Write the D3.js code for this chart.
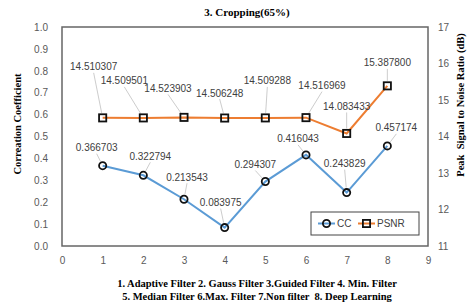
<!DOCTYPE html>
<html>
<head>
<meta charset="utf-8">
<script src="https://cdn.jsdelivr.net/npm/d3@7"></script>
<style>
  body { margin: 0; background: #fff; }
  svg text { font-family: "Liberation Sans", Arial, sans-serif; }
  .tick text { fill: #595959; font-size: 10px; }
  .serif { font-family: "Liberation Serif", "Times New Roman", serif !important; font-weight: bold; fill: #000; }
  .val { font-size: 10px; fill: #404040; }
  .leader { stroke: #bfbfbf; stroke-width: 0.8; fill: none; }
</style>
</head>
<body>
<svg id="chart" width="475" height="305"></svg>
<script>
// data
var filters = [1, 2, 3, 4, 5, 6, 7, 8];
var ccValues = [0.366703, 0.322794, 0.213543, 0.083975, 0.294307, 0.416043, 0.243829, 0.457174];
var psnrValues = [14.510307, 14.509501, 14.523903, 14.506248, 14.509288, 14.516969, 14.083433, 15.387800];
var xTicks = [0, 1, 2, 3, 4, 5, 6, 7, 8, 9];
var ccTicks = [0, 0.1, 0.2, 0.3, 0.4, 0.5, 0.6, 0.7, 0.8, 0.9, 1.0];
var psnrTicks = [11, 12, 13, 14, 15, 16, 17];
var captions = [
  "1. Adaptive Filter 2. Gauss Filter 3.Guided Filter 4. Min. Filter",
  "5. Median Filter 6.Max. Filter 7.Non filter  8. Deep Learning"
];

// label offsets from each point (px), tuned by eye
var ccLabelOffset = [[-6, -18], [7, -19], [3, -22], [-4, -25], [-10, -17], [-8, -16], [-2, -29], [9, -18]];
var psnrLabelOffset = [[-9, -51], [-19, -37], [-16, -29], [-5, -25], [2, -37], [16, -32], [0, -27], [0, -23]];

var svg = d3.select("#chart");
var plot = { left: 62, right: 428, top: 27, bottom: 246 };

var x = d3.scaleLinear().domain([0, 9]).range([plot.left, plot.right]);
var yL = d3.scaleLinear().domain([0, 1]).range([plot.bottom, plot.top]);
var yR = d3.scaleLinear().domain([11, 17]).range([plot.bottom, plot.top]);

// title
svg.append("text").attr("class", "serif")
  .attr("x", 247).attr("y", 16).attr("text-anchor", "middle")
  .style("font-size", "11px").text("3. Cropping(65%)");

// frame
svg.append("rect")
  .attr("x", plot.left).attr("y", plot.top)
  .attr("width", plot.right - plot.left).attr("height", plot.bottom - plot.top)
  .attr("fill", "none").attr("stroke", "#666").attr("stroke-width", 1.5);

// axes (labels only)
var axL = svg.append("g").attr("transform", "translate(" + (plot.left - 14) + ",0)")
  .call(d3.axisLeft(yL).tickValues(ccTicks).tickSize(0).tickFormat(d3.format(".1f")));
var axR = svg.append("g").attr("transform", "translate(" + (plot.right + 10) + ",0)")
  .call(d3.axisRight(yR).tickValues(psnrTicks).tickSize(0).tickFormat(d3.format("d")));
var axB = svg.append("g").attr("transform", "translate(0," + (plot.bottom + 8) + ")")
  .call(d3.axisBottom(x).tickValues(xTicks).tickSize(0).tickFormat(d3.format("d")));
[axL, axR, axB].forEach(function (a) { a.select(".domain").remove(); });
axL.selectAll("text").attr("x", 0);
axR.selectAll("text").attr("x", 0);

// axis titles
svg.append("text").attr("class", "serif")
  .attr("transform", "translate(21,124) rotate(-90)")
  .attr("text-anchor", "middle").style("font-size", "10.5px")
  .text("Correation Coefficient");
svg.append("text").attr("class", "serif")
  .attr("transform", "translate(464,105) rotate(-90)")
  .attr("text-anchor", "middle").style("font-size", "10.5px")
  .attr("xml:space", "preserve")
  .text("Peak  Signal to Noise Ratio (dB)");

// captions
svg.selectAll(".cap").data(captions).enter().append("text")
  .attr("class", "serif cap").attr("x", 257)
  .attr("y", function (d, i) { return 287 + i * 12.5; })
  .attr("text-anchor", "middle").style("font-size", "10.5px")
  .attr("xml:space", "preserve")
  .text(function (d) { return d; });

function drawSeries(values, yScale, color, offsets, fmt, marker) {
  var pts = values.map(function (v, i) {
    return { x: x(filters[i]), y: yScale(v), v: v, o: offsets[i] };
  });
  var g = svg.append("g");

  // leader lines
  pts.forEach(function (p) {
    var lx = p.x + p.o[0], ly = p.y + p.o[1] + 6;
    var dx = p.x - lx, dy = p.y - ly, len = Math.sqrt(dx * dx + dy * dy);
    if (len > 10) {
      var k = (len - 5) / len;
      g.append("line").attr("class", "leader")
        .attr("x1", lx).attr("y1", ly)
        .attr("x2", lx + dx * k).attr("y2", ly + dy * k);
    }
  });

  g.append("path").datum(pts)
    .attr("d", d3.line().x(function (d) { return d.x; }).y(function (d) { return d.y; }))
    .attr("fill", "none").attr("stroke", color).attr("stroke-width", 2);

  pts.forEach(function (p) {
    if (marker === "circle") {
      g.append("circle").attr("cx", p.x).attr("cy", p.y).attr("r", 3.6)
        .attr("fill", "none").attr("stroke", "#111").attr("stroke-width", 1.8);
    } else {
      g.append("rect").attr("x", p.x - 3.6).attr("y", p.y - 3.6)
        .attr("width", 7.2).attr("height", 7.2)
        .attr("fill", "none").attr("stroke", "#111").attr("stroke-width", 1.8);
    }
  });

  g.selectAll(".val").data(pts).enter().append("text")
    .attr("class", "val").attr("text-anchor", "middle")
    .attr("x", function (d) { return d.x + d.o[0]; })
    .attr("y", function (d) { return d.y + d.o[1] + 3.5; })
    .text(function (d) { return fmt(d.v); });
}

drawSeries(ccValues, yL, "#5b9bd5", ccLabelOffset, d3.format(".6f"), "circle");
drawSeries(psnrValues, yR, "#ed7d31", psnrLabelOffset, d3.format(".6f"), "square");

// legend
var lg = svg.append("g").attr("transform", "translate(311,212)");
lg.append("rect").attr("width", 108).attr("height", 23)
  .attr("fill", "#fff").attr("stroke", "#444").attr("stroke-width", 1);
var items = [
  { name: "CC", color: "#5b9bd5", marker: "circle", x: 7 },
  { name: "PSNR", color: "#ed7d31", marker: "square", x: 47 }
];
items.forEach(function (it) {
  lg.append("line").attr("x1", it.x).attr("x2", it.x + 17).attr("y1", 11.5).attr("y2", 11.5)
    .attr("stroke", it.color).attr("stroke-width", 2);
  if (it.marker === "circle") {
    lg.append("circle").attr("cx", it.x + 8.5).attr("cy", 11.5).attr("r", 3.6)
      .attr("fill", "none").attr("stroke", "#111").attr("stroke-width", 1.8);
  } else {
    lg.append("rect").attr("x", it.x + 4.9).attr("y", 7.9).attr("width", 7.2).attr("height", 7.2)
      .attr("fill", "none").attr("stroke", "#111").attr("stroke-width", 1.8);
  }
  lg.append("text").attr("x", it.x + 19).attr("y", 15).attr("class", "val")
    .style("fill", "#404040").text(it.name);
});
</script>
</body>
</html>
